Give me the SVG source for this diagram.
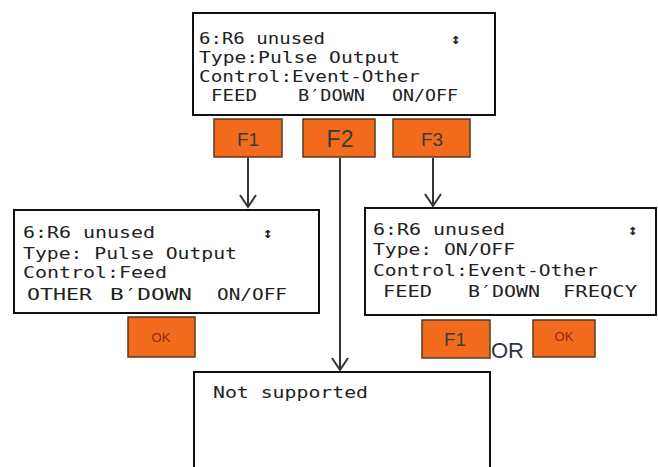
<svg xmlns="http://www.w3.org/2000/svg" width="658" height="467" viewBox="0 0 658 467">
<style>
.scr{fill:#fff;stroke:#111;stroke-width:2}
.lcd{font-family:"DejaVu Sans Mono","Liberation Mono",monospace;font-size:16px;fill:#222}
.sym{font-family:"DejaVu Sans Mono",monospace;font-size:15px;font-weight:bold;fill:#222}
.btn{fill:#f26b1d;stroke:#5a3a22;stroke-width:1.5}
.bt{font-family:"Liberation Sans",Arial,sans-serif;fill:#3a3a3a;text-anchor:middle}
.ok{font-family:"Liberation Sans",Arial,sans-serif;font-size:13px;fill:#8a2a10;text-anchor:middle}
.con{fill:none;stroke:#333;stroke-width:2}
</style>
<rect width="658" height="467" fill="#fff"/>
<g id="screen-top">
<rect class="scr" x="193" y="13" width="302" height="102"/>
<text class="lcd" x="199" y="44" textLength="126" lengthAdjust="spacingAndGlyphs">6:R6 unused</text>
<text class="sym" x="451" y="44">↕</text>
<text class="lcd" x="199" y="63" textLength="201" lengthAdjust="spacingAndGlyphs">Type:Pulse Output</text>
<text class="lcd" x="199" y="82" textLength="221" lengthAdjust="spacingAndGlyphs">Control:Event-Other</text>
<text class="lcd" x="211" y="101" textLength="46" lengthAdjust="spacingAndGlyphs">FEED</text>
<text class="lcd" x="298" y="101" textLength="67" lengthAdjust="spacingAndGlyphs">B′DOWN</text>
<text class="lcd" x="392" y="101" textLength="66" lengthAdjust="spacingAndGlyphs">ON/OFF</text>
</g>
<g id="btn-f1">
<rect class="btn" x="214" y="119" width="68" height="38"/>
<text class="bt" x="248" y="146" font-size="19">F1</text>
</g>
<g id="btn-f2">
<rect class="btn" x="303" y="119" width="72" height="38"/>
<text class="bt" x="340" y="147" font-size="23">F2</text>
</g>
<g id="btn-f3">
<rect class="btn" x="393" y="119" width="77" height="38"/>
<text class="bt" x="432" y="146" font-size="19">F3</text>
</g>
<g id="screen-left">
<rect class="scr" x="14" y="210" width="305" height="103"/>
<text class="lcd" x="23" y="238" textLength="132" lengthAdjust="spacingAndGlyphs">6:R6 unused</text>
<text class="sym" x="263" y="238">↕</text>
<text class="lcd" x="23" y="259" textLength="214" lengthAdjust="spacingAndGlyphs">Type: Pulse Output</text>
<text class="lcd" x="23" y="278" textLength="144" lengthAdjust="spacingAndGlyphs">Control:Feed</text>
<text class="lcd" x="27" y="300" textLength="65" lengthAdjust="spacingAndGlyphs">OTHER</text>
<text class="lcd" x="110" y="300" textLength="82" lengthAdjust="spacingAndGlyphs">B′DOWN</text>
<text class="lcd" x="217" y="300" textLength="70" lengthAdjust="spacingAndGlyphs">ON/OFF</text>
</g>
<g id="btn-ok-left">
<rect class="btn" x="128" y="317" width="67" height="40"/>
<text class="ok" x="161" y="342">OK</text>
</g>
<g id="screen-right">
<rect class="scr" x="365" y="208" width="291" height="107"/>
<text class="lcd" x="373" y="235" textLength="132" lengthAdjust="spacingAndGlyphs">6:R6 unused</text>
<text class="sym" x="628" y="235">↕</text>
<text class="lcd" x="373" y="255" textLength="142" lengthAdjust="spacingAndGlyphs">Type: ON/OFF</text>
<text class="lcd" x="373" y="276" textLength="225" lengthAdjust="spacingAndGlyphs">Control:Event-Other</text>
<text class="lcd" x="383" y="297" textLength="49" lengthAdjust="spacingAndGlyphs">FEED</text>
<text class="lcd" x="468" y="297" textLength="72" lengthAdjust="spacingAndGlyphs">B′DOWN</text>
<text class="lcd" x="563" y="297" textLength="74" lengthAdjust="spacingAndGlyphs">FREQCY</text>
</g>
<g id="btn-f1-right">
<rect class="btn" x="422" y="320" width="68" height="38"/>
<text class="bt" x="455" y="346" font-size="19">F1</text>
</g>
<g id="label-or">
<text x="491" y="358" font-family="Liberation Sans,Arial,sans-serif" font-size="22" fill="#334">OR</text>
</g>
<g id="btn-ok-right">
<rect class="btn" x="533" y="320" width="62" height="37"/>
<text class="ok" x="564" y="341">OK</text>
</g>
<g id="screen-bottom">
<rect class="scr" x="194" y="372" width="296" height="100"/>
<text class="lcd" x="213" y="398" textLength="155" lengthAdjust="spacingAndGlyphs">Not supported</text>
</g>
<g id="connectors">
<path class="con" d="M248 158V207M240 195L248 207L256 195"/>
<path class="con" d="M340 158V370M332 358L340 370L348 358"/>
<path class="con" d="M433 158V206M425 194L433 206L441 194"/>
</g>
</svg>
